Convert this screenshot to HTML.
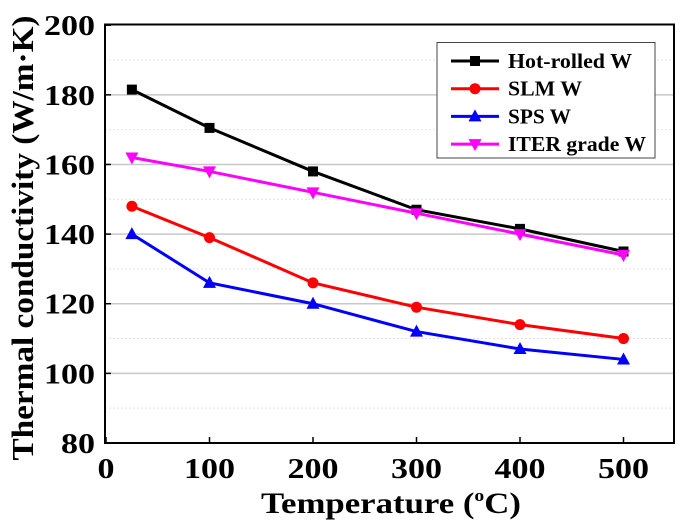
<!DOCTYPE html>
<html><head><meta charset="utf-8"><style>
body{margin:0;background:#fff}
svg{display:block;font-family:"Liberation Serif",serif;font-weight:bold}
</style></head><body>
<svg id="chart" width="685" height="523" viewBox="0 0 685 523" xmlns="http://www.w3.org/2000/svg">
<g id="grid"></g>
<g id="series"></g>
<rect x="105" y="24.5" width="569" height="418.5" fill="none" stroke="#000" stroke-width="2"/>
<g id="ticks"></g>
<text x="261" y="513" font-size="30" textLength="260" lengthAdjust="spacingAndGlyphs">Temperature (<tspan font-size="17" dy="-12">o</tspan><tspan dy="12">C)</tspan></text>
<text transform="translate(33,238) rotate(-90)" font-size="31" text-anchor="middle" textLength="445" lengthAdjust="spacingAndGlyphs">Thermal conductivity (W/m·K)</text>
<g id="legend"></g>
</svg>
<script>
const temps=[25,100,200,300,400,500];
const hotRolled=[181.5,170.5,158,147,141.5,135];
const slm=[148,139,126,119,114,110];
const sps=[140,126,120,112,107,104];
const iter=[162,158,152,146,140,134];
const xTicks=[0,100,200,300,400,500];
const yTicks=[80,100,120,140,160,180,200];
const seriesNames=["Hot-rolled W","SLM W","SPS W","ITER grade W"];
const NS="http://www.w3.org/2000/svg";
const x=v=>106+v*1.035;
const y=v=>443-(v-80)*3.4817;
function mk(t,a,p){const e=document.createElementNS(NS,t);for(const k in a)e.setAttribute(k,a[k]);p.appendChild(e);return e;}
const grid=document.getElementById('grid'),ticks=document.getElementById('ticks');
for(let v=90;v<200;v+=10){
  const g=mk('line',{x1:105,x2:674,y1:y(v),y2:y(v),stroke:v%20?'#e4e4e4':'#c8c8c8','stroke-width':v%20?1:1.5,'stroke-dasharray':v%20?'2,2':''},grid);
  
  
}
yTicks.forEach(v=>{
  const s=String(v);
  const t=mk('text',{x:95,y:y(v)+10,'font-size':28,'text-anchor':'end',textLength:s.length*17,lengthAdjust:'spacingAndGlyphs'},ticks);t.textContent=s;
  
  
  const l=mk('line',{x1:105,x2:111,y1:y(v),y2:y(v),stroke:'#000','stroke-width':1.5},ticks);
  
  
});
xTicks.forEach(v=>{
  const s=String(v);
  const t=mk('text',{x:x(v),y:478,'font-size':28,'text-anchor':'middle',textLength:s.length*17,lengthAdjust:'spacingAndGlyphs'},ticks);t.textContent=s;
  
  
  const l=mk('line',{x1:x(v),x2:x(v),y1:443,y2:437,stroke:'#000','stroke-width':1.5},ticks);
  
  
});
const colors=['#000','#ff0000','#0000ff','#ff00ff'];
const markers=['square','circle','up','down'];
const all=[hotRolled,slm,sps,iter];
function marker(type,cx,cy,c,p){
  let e;
  if(type==='square')e=mk('rect',{x:cx-5,y:cy-5,width:10,height:10,fill:c},p);
  else if(type==='circle')e=mk('circle',{cx:cx,cy:cy,r:5.5,fill:c},p);
  else if(type==='up')e=mk('polygon',{points:`${cx},${cy-7} ${cx-6.5},${cy+5} ${cx+6.5},${cy+5}`,fill:c},p);
  else e=mk('polygon',{points:`${cx},${cy+7} ${cx-6.5},${cy-5} ${cx+6.5},${cy-5}`,fill:c},p);
  return e;
}
const sg=document.getElementById('series');
all.forEach((d,i)=>{
  const g=mk('g',{},sg);
  
  
  const pl=mk('polyline',{points:d.map((v,j)=>x(temps[j])+','+y(v)).join(' '),fill:'none',stroke:colors[i],'stroke-width':3},g);
  
  
  d.forEach((v,j)=>{const m=marker(markers[i],x(temps[j]),y(v),colors[i],g);
    
    });
});
const lg=document.getElementById('legend');
const box=mk('rect',{x:437,y:42.5,width:218,height:115.5,fill:'#fff',stroke:'#444','stroke-width':1},lg);


const legendWidths=[124,74,63,138];
seriesNames.forEach((n,i)=>{
  const yy=61+i*27.7;
  const g=mk('g',{},lg);
  
  
  mk('line',{x1:451,x2:499,y1:yy,y2:yy,stroke:colors[i],'stroke-width':3},g);
  marker(markers[i],475,yy,colors[i],g);
  const t=mk('text',{x:508,y:yy+7,'font-size':21,textLength:legendWidths[i],lengthAdjust:'spacingAndGlyphs'},g);t.textContent=n;
});
</script>
</body></html>
